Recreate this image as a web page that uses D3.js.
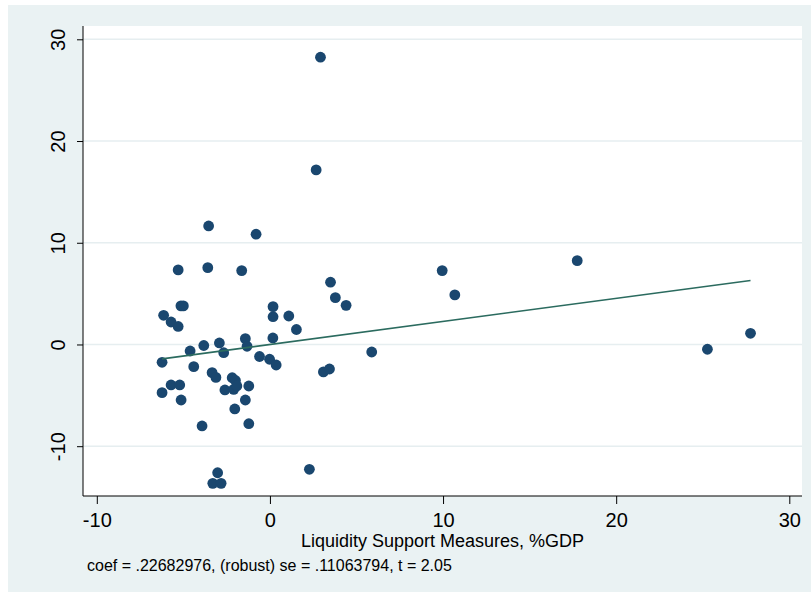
<!DOCTYPE html>
<html>
<head>
<meta charset="utf-8">
<script src="https://cdn.jsdelivr.net/npm/d3@7"></script>
<style>
  html, body { margin: 0; padding: 0; background: #ffffff; }
  svg { display: block; }
  text { font-family: "Liberation Sans", Arial, Helvetica, sans-serif; fill: #000; }
</style>
</head>
<body>
<svg id="chart" width="811" height="592"></svg>
<script>
// ---- data ----
const xValues = [2.92, 2.67, -3.54, -0.80, -5.30, -3.59, -1.63, 9.95, 17.75, 3.50,
  3.78, 4.40, 10.68, -5.14, -5.00, -6.14, -5.71, -5.30, 0.18, 0.18,
  1.09, 1.53, -4.61, -3.82, -2.92, -1.42, -1.32, 0.17, -2.67, -0.60,
  -0.02, 0.36, -6.23, -4.40, 5.88, 3.09, 3.44, -3.34, -3.12, -2.18,
  -1.99, -2.60, -2.09, -1.91, -1.22, -6.23, -5.71, -5.21, -5.13, -1.42,
  -2.03, -3.92, -1.22, -3.02, -3.30, -2.82, 2.28, 25.27, 27.76];
const yValues = [28.24, 17.16, 11.65, 10.84, 7.33, 7.55, 7.26, 7.26, 8.24, 6.12,
  4.60, 3.85, 4.87, 3.79, 3.79, 2.87, 2.21, 1.77, 3.72, 2.73,
  2.80, 1.47, -0.64, -0.10, 0.15, 0.57, -0.18, 0.64, -0.81, -1.18,
  -1.45, -2.02, -1.75, -2.18, -0.74, -2.70, -2.41, -2.77, -3.24, -3.27,
  -3.54, -4.47, -4.41, -4.08, -4.08, -4.74, -3.98, -3.98, -5.46, -5.46,
  -6.34, -8.01, -7.79, -12.61, -13.65, -13.65, -12.27, -0.47, 1.10];
const xTicks = [-10, 0, 10, 20, 30];
const yTicks = [-10, 0, 10, 20, 30];
const fitSlope = 0.22682976;
const fitIntercept = 0;
const xTitle = "Liquidity Support Measures, %GDP";
const noteText = "coef = .22682976, (robust) se = .11063794, t = 2.05";

const points = xValues.map((x, i) => ({ x, y: yValues[i] }));

// ---- layout ----
const W = 811, H = 592;
const plot = { left: 83, right: 802, top: 26, bottom: 496 };
const svg = d3.select("#chart");

const x = d3.scaleLinear().domain([-10, 30]).range([96.8, 789.3]);
const y = d3.scaleLinear().domain([-10, 30]).range([446.2, 39.3]);
const fmt = d => String(d); // plain hyphen-minus as in the reference

// outer graph region
svg.append("rect").attr("x", 8).attr("y", 5).attr("width", W - 8).attr("height", H - 5)
  .attr("fill", "#eaf2f3");
// plot region
svg.append("rect").attr("x", plot.left).attr("y", plot.top)
  .attr("width", plot.right - plot.left).attr("height", plot.bottom - plot.top)
  .attr("fill", "#ffffff");

// gridlines
svg.append("g").selectAll("line").data(yTicks).join("line")
  .attr("x1", plot.left).attr("x2", plot.right)
  .attr("y1", d => y(d)).attr("y2", d => y(d))
  .attr("stroke", "#e6eef0").attr("stroke-width", 1.6);

// points
svg.append("g").selectAll("circle").data(points).join("circle")
  .attr("cx", d => x(d.x)).attr("cy", d => y(d.y)).attr("r", 5.4)
  .attr("fill", "#1a476f");

// fit line
const xMin = d3.min(xValues), xMax = d3.max(xValues);
const fitData = [xMin, xMax].map(v => ({ x: v, y: fitIntercept + fitSlope * v }));
svg.append("path").datum(fitData)
  .attr("d", d3.line().x(d => x(d.x)).y(d => y(d.y)))
  .attr("fill", "none").attr("stroke", "#2b6b5f").attr("stroke-width", 1.6);

// axes
const yAxis = d3.axisLeft(y).tickValues(yTicks).tickFormat(fmt).tickSize(6).tickSizeOuter(0).tickPadding(4);
const gy = svg.append("g").attr("transform", `translate(${plot.left},0)`).call(yAxis);
gy.select(".domain").remove();
gy.selectAll(".tick line").attr("stroke", "#000").attr("stroke-width", 1);
gy.selectAll(".tick text")
  .attr("x", 0).attr("dy", null)
  .attr("transform", "translate(-18,0) rotate(-90)")
  .attr("text-anchor", "middle")
  .attr("y", 0)
  .style("font-size", "20px")
  .style("font-family", '"Liberation Sans", Arial, sans-serif');

const xAxis = d3.axisBottom(x).tickValues(xTicks).tickFormat(fmt).tickSize(8).tickSizeOuter(0).tickPadding(4);
const gx = svg.append("g").attr("transform", `translate(0,${plot.bottom})`).call(xAxis);
gx.select(".domain").remove();
gx.selectAll(".tick line").attr("stroke", "#000").attr("stroke-width", 1);
gx.selectAll(".tick text")
  .attr("dy", null).attr("y", 31)
  .style("font-size", "20px")
  .style("font-family", '"Liberation Sans", Arial, sans-serif');

// axis lines
svg.append("line").attr("x1", plot.left).attr("x2", plot.left)
  .attr("y1", plot.top).attr("y2", plot.bottom).attr("stroke", "#000").attr("stroke-width", 1);
svg.append("line").attr("x1", plot.left).attr("x2", plot.right)
  .attr("y1", plot.bottom).attr("y2", plot.bottom).attr("stroke", "#000").attr("stroke-width", 1);

// axis title
svg.append("text").attr("x", (plot.left + plot.right) / 2).attr("y", 546.5)
  .attr("text-anchor", "middle").style("font-size", "18px").text(xTitle);

// note
svg.append("text").attr("x", 87).attr("y", 570.5)
  .attr("text-anchor", "start").style("font-size", "16px").text(noteText);
</script>
</body>
</html>
